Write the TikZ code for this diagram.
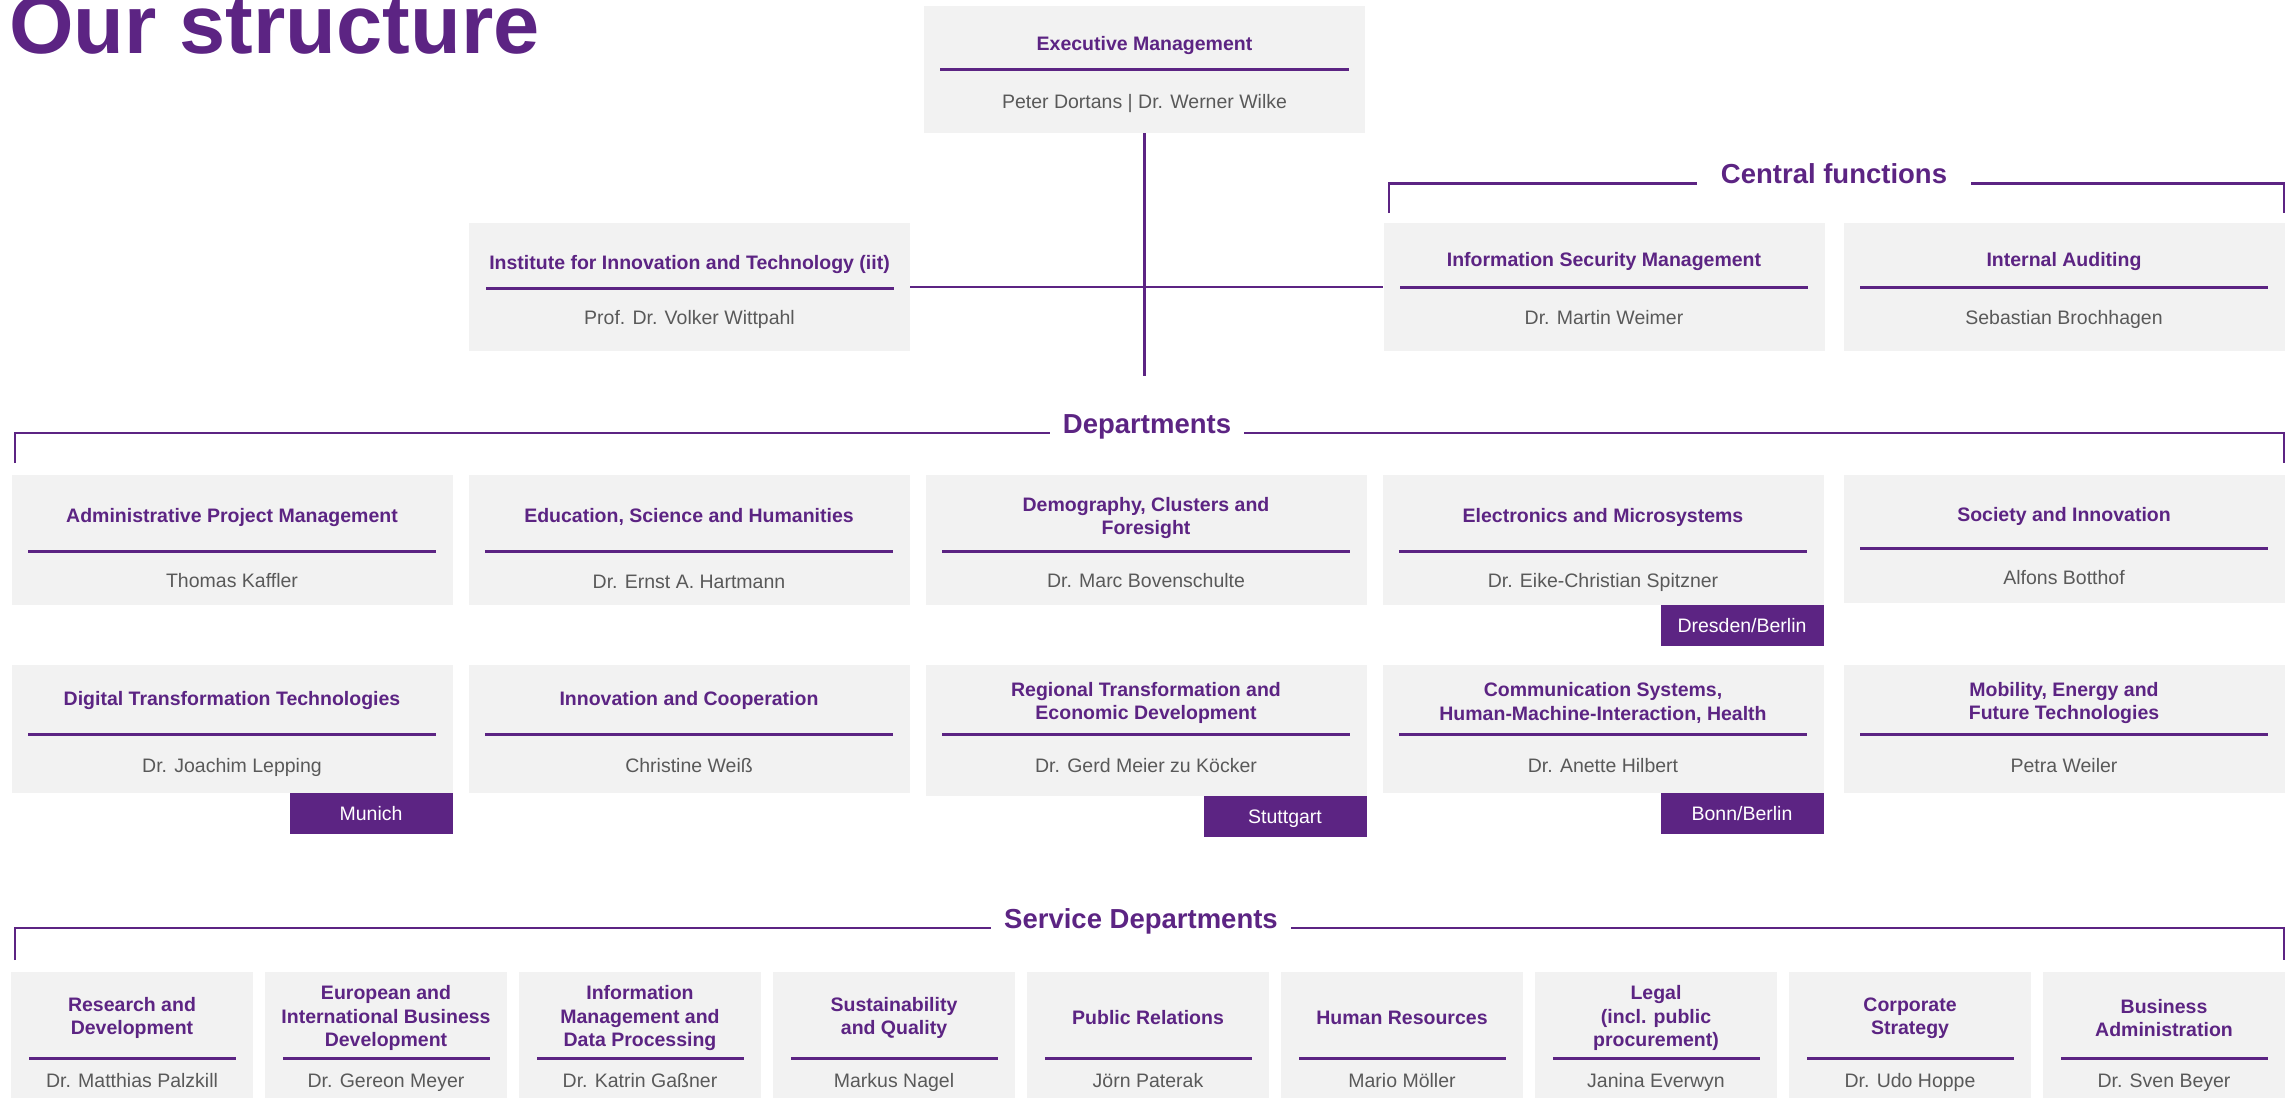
\documentclass[tikz,border=0pt]{standalone}
\usepackage{fontspec}
\setmainfont{Liberation Sans}
\usetikzlibrary{positioning}
\definecolor{orgpurple}{RGB}{92,36,131}
\definecolor{boxgray}{RGB}{242,242,242}
\definecolor{namegray}{RGB}{89,89,89}

\begin{document}
\begin{tikzpicture}[x=1pt,y=-1pt,
    box/.style={fill=boxgray,inner sep=0pt,minimum width=441pt,minimum height=128pt},
    small/.style={box,minimum width=242pt},
    ttl/.style={text=orgpurple,align=center,inner sep=0pt,font=\bfseries\fontsize{19.5}{23.5}\selectfont},
    who/.style={text=namegray,anchor=base,inner sep=0pt,font=\fontsize{19.5}{23.5}\selectfont},
    rule/.style={orgpurple,line width=3pt},
    link/.style={orgpurple,line width=2.2pt},
    head/.style={text=orgpurple,anchor=base,inner ysep=0pt,inner xsep=13pt,font=\bfseries\fontsize{27.5}{33}\selectfont},
    tag/.style={fill=orgpurple,text=white,anchor=north east,minimum width=163pt,minimum height=41pt,inner sep=0pt,text height=14pt,text depth=0pt,font=\fontsize{19.5}{23.5}\selectfont}]
    \useasboundingbox (0,0) rectangle (2290,1097);
    \node[anchor=base west,inner sep=0pt,text=orgpurple,font=\bfseries\fontsize{83}{90}\selectfont] (title) at (9,54) {Our structure};

    \node[box,minimum height=127pt] (exec) at (1144.5,69.5) {};
    \node[ttl] (execT) at (1144.5,46) {Executive Management};
    \draw[rule] (940,70) -- (1349,70);
    \node[who] (execN) at (1144.5,108.5) {Peter Dortans | Dr. Werner Wilke};

    \node[box] (iit) at (689.5,287) {};
    \node[ttl] (iitT) at (689.5,264) {Institute for Innovation and Technology (iit)};
    \draw[rule] (486,288) -- (894,288);
    \node[who] (iitN) at (689.5,324) {Prof. Dr. Volker Wittpahl};

    \node[box] (isec) at (1604,287) {};
    \node[ttl] (isecT) at (1604,261) {Information Security Management};
    \draw[rule] (1400,287) -- (1808,287);
    \node[who] (isecN) at (1604,324) {Dr. Martin Weimer};

    \node[box] (audit) at (2064,287) {};
    \node[ttl] (auditT) at (2064,261) {Internal Auditing};
    \draw[rule] (1860,287) -- (2268,287);
    \node[who] (auditN) at (2064,324) {Sebastian Brochhagen};

    \coordinate (stem) at (1144.5,376);
    \draw[link] (exec.south) -- (stem);
    \draw[link] (iit.east) -- (isec.west);

    \node[head,inner xsep=24pt] (cf) at (1834,183.5) {Central functions};
    \coordinate (cfL) at (1389,213);
    \coordinate (cfR) at (2284,213);
    \draw[link] (cfL) |- (cf.base west);
    \draw[link] (cf.base east) -| (cfR);

    \node[head] (dep) at (1147,433) {Departments};
    \coordinate (depL) at (15,463);
    \coordinate (depR) at (2284,463);
    \draw[link] (depL) |- (dep.base west);
    \draw[link] (dep.base east) -| (depR);

    \node[box,minimum height=130pt] (apm) at (232,540) {};
    \node[ttl] (apmT) at (232,517) {Administrative Project Management};
    \draw[rule] (28,551) -- (436,551);
    \node[who] (apmN) at (232,587) {Thomas Kaffler};

    \node[box,minimum height=130pt] (esh) at (689,540) {};
    \node[ttl] (eshT) at (689,517) {Education, Science and Humanities};
    \draw[rule] (485,551) -- (893,551);
    \node[who] (eshN) at (689,588) {Dr. Ernst A. Hartmann};

    \node[box,minimum height=130pt] (dcf) at (1146,540) {};
    \node[ttl] (dcfT) at (1146,518) {Demography, Clusters and\\Foresight};
    \draw[rule] (942,551) -- (1350,551);
    \node[who] (dcfN) at (1146,587) {Dr. Marc Bovenschulte};

    \node[box,minimum height=130pt] (ems) at (1603,540) {};
    \node[ttl] (emsT) at (1603,517) {Electronics and Microsystems};
    \draw[rule] (1399,551) -- (1807,551);
    \node[who] (emsN) at (1603,587) {Dr. Eike-Christian Spitzner};

    \node[box] (soc) at (2064,539) {};
    \node[ttl] (socT) at (2064,516) {Society and Innovation};
    \draw[rule] (1860,548) -- (2268,548);
    \node[who] (socN) at (2064,584) {Alfons Botthof};

    \node[tag] (dresden) at (ems.south east) {Dresden/Berlin};

    \node[box] (dtt) at (232,729) {};
    \node[ttl] (dttT) at (232,700) {Digital Transformation Technologies};
    \draw[rule] (28,734) -- (436,734);
    \node[who] (dttN) at (232,772) {Dr. Joachim Lepping};

    \node[box] (ico) at (689,729) {};
    \node[ttl] (icoT) at (689,700) {Innovation and Cooperation};
    \draw[rule] (485,734) -- (893,734);
    \node[who] (icoN) at (689,772) {Christine Weiß};

    \node[box,minimum height=131pt] (red) at (1146,730.5) {};
    \node[ttl] (redT) at (1146,703) {Regional Transformation and\\Economic Development};
    \draw[rule] (942,734) -- (1350,734);
    \node[who] (redN) at (1146,772) {Dr. Gerd Meier zu Köcker};

    \node[box] (chh) at (1603,729) {};
    \node[ttl] (chhT) at (1603,703) {Communication Systems,\\Human-Machine-Interaction, Health};
    \draw[rule] (1399,734) -- (1807,734);
    \node[who] (chhN) at (1603,772) {Dr. Anette Hilbert};

    \node[box] (mef) at (2064,729) {};
    \node[ttl] (mefT) at (2064,703) {Mobility, Energy and\\Future Technologies};
    \draw[rule] (1860,734) -- (2268,734);
    \node[who] (mefN) at (2064,772) {Petra Weiler};

    \node[tag] (munich) at (dtt.south east) {Munich};
    \node[tag] (stuttgart) at (red.south east) {Stuttgart};
    \node[tag] (bonn) at (chh.south east) {Bonn/Berlin};

    \node[head] (svc) at (1141,928) {Service Departments};
    \coordinate (svcL) at (15,960);
    \coordinate (svcR) at (2284,960);
    \draw[link] (svcL) |- (svc.base west);
    \draw[link] (svc.base east) -| (svcR);

    \node[small] (rnd) at (132,1036) {};
    \node[ttl] (rndT) at (132,1018) {Research and\\Development};
    \draw[rule] (29,1058) -- (236,1058);
    \node[who] (rndN) at (132,1087) {Dr. Matthias Palzkill};

    \node[small] (eib) at (386,1036) {};
    \node[ttl] (eibT) at (386,1018) {European and\\International Business\\Development};
    \draw[rule] (283,1058) -- (490,1058);
    \node[who] (eibN) at (386,1087) {Dr. Gereon Meyer};

    \node[small] (imd) at (640,1036) {};
    \node[ttl] (imdT) at (640,1018) {Information\\Management and\\Data Processing};
    \draw[rule] (537,1058) -- (744,1058);
    \node[who] (imdN) at (640,1087) {Dr. Katrin Gaßner};

    \node[small] (suq) at (894,1036) {};
    \node[ttl] (suqT) at (894,1018) {Sustainability\\and Quality};
    \draw[rule] (791,1058) -- (998,1058);
    \node[who] (suqN) at (894,1087) {Markus Nagel};

    \node[small] (pr) at (1148,1036) {};
    \node[ttl] (prT) at (1148,1018) {Public Relations};
    \draw[rule] (1045,1058) -- (1252,1058);
    \node[who] (prN) at (1148,1087) {Jörn Paterak};

    \node[small] (hr) at (1402,1036) {};
    \node[ttl] (hrT) at (1402,1018) {Human Resources};
    \draw[rule] (1299,1058) -- (1506,1058);
    \node[who] (hrN) at (1402,1087) {Mario Möller};

    \node[small] (leg) at (1656,1036) {};
    \node[ttl] (legT) at (1656,1018) {Legal\\(incl. public\\procurement)};
    \draw[rule] (1553,1058) -- (1760,1058);
    \node[who] (legN) at (1656,1087) {Janina Everwyn};

    \node[small] (cst) at (1910,1036) {};
    \node[ttl] (cstT) at (1910,1018) {Corporate\\Strategy};
    \draw[rule] (1807,1058) -- (2014,1058);
    \node[who] (cstN) at (1910,1087) {Dr. Udo Hoppe};

    \node[small] (bad) at (2164,1036) {};
    \node[ttl] (badT) at (2164,1018) {Business\\Administration};
    \draw[rule] (2061,1058) -- (2268,1058);
    \node[who] (badN) at (2164,1087) {Dr. Sven Beyer};
\end{tikzpicture}
\end{document}
